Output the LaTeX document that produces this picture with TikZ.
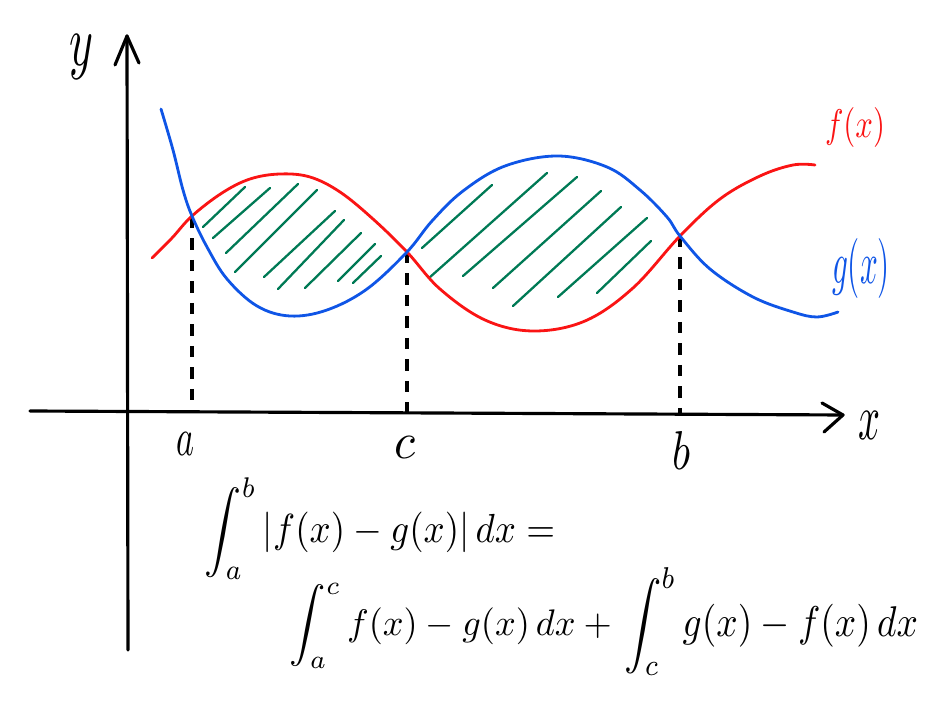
\documentclass[tikz,border=0pt]{standalone}
\usepackage{graphicx}
\newlength\pxu
\setlength\pxu{0.02cm}
\newcommand\hw[3]{\resizebox*{#1\pxu}{#2\pxu}{#3}}
\definecolor{fred}{RGB}{250,20,20}
\definecolor{gblue}{RGB}{15,85,230}
\definecolor{hgreen}{RGB}{0,122,85}
\tikzset{
  axisline/.style={line width=1.8pt,line cap=round,line join=round},
  fcurve/.style={fred,line width=1.6pt,line cap=round},
  gcurve/.style={gblue,line width=1.6pt,line cap=round},
  hatchline/.style={hgreen,line width=1.3pt,line cap=round},
  dropline/.style={line width=1.8pt,dash pattern=on 0.23cm off 0.2cm},
  lbl/.style={inner sep=0pt,outer sep=0pt}
}
\begin{document}
\begin{tikzpicture}[x=0.02cm,y=-0.02cm]
\useasboundingbox (0,0) rectangle (938,702);
% axes
\coordinate (xs) at (30,411);
\coordinate (xe) at (843,415);
\coordinate (ys) at (128,650);
\coordinate (ye) at (127,36);
\draw[axisline] (xs) -- (xe);
\draw[axisline] (822,403) -- (xe) -- (824,432);
\draw[axisline] (ys) -- (ye);
\draw[axisline] (115,65) -- (ye) -- (139,63);
\node[lbl] (ylab) at (82,57) {\hw{24}{45}{$y$}};
\node[lbl] (xlab) at (869,426) {\hw{22}{28}{$x$}};
% intersection points and feet
\coordinate (A) at (192,217);
\coordinate (C) at (407,252);
\coordinate (B) at (680,236);
\coordinate (Af) at (192,411);
\coordinate (Cf) at (407,412);
\coordinate (Bf) at (680,414);
\draw[dropline] (A) -- (Af);
\draw[dropline] (C) -- (Cf);
\draw[dropline] (B) -- (Bf);
\node[lbl] (alab) at (186,444) {\hw{18}{23}{$a$}};
\node[lbl] (clab) at (405,448) {\hw{21}{22}{$c$}};
\node[lbl] (blab) at (681,451) {\hw{18}{38}{$b$}};
% hatching
\foreach \p/\q in {{203,227}/{245,187},{213,238}/{270,188},{226,253}/{298,184},{235,272}/{317,190},{264,277}/{335,211},{278,289}/{344,220},{305,288}/{361,233},{338,281}/{375,244},{353,283}/{381,256},
  {422,248}/{492,185},{429,278}/{547,173},{463,276}/{577,177},{493,288}/{601,191},{513,306}/{621,207},{558,297}/{647,218},{597,293}/{651,241}}
  \draw[hatchline] (\p) -- (\q);
% curves
\draw[fcurve] plot[smooth,tension=0.6] coordinates {(152,258) (172,238) (192,216) (222,193) (250,179) (280,174) (310,177) (340,192) (373,219) (407,252) (440,289) (485,320) (533,331) (585,321) (633,288) (680,236) (720,199) (760,176) (793,165) (815,165)};
\draw[gcurve] plot[smooth,tension=0.6] coordinates {(161,109) (173,150) (183,190) (192,216) (207,247) (227,279) (257,306) (290,316) (327,310) (367,289) (407,252) (432,221) (463,191) (505,166) (558,156) (607,167) (640,190) (667,217) (680,236) (710,269) (753,297) (793,312) (817,317) (838,312)};
\node[lbl,text=fred] (flab) at (855,128) {\hw{60}{40}{$f(x)$}};
\node[lbl,text=gblue] (glab) at (861,269) {\hw{58}{60}{$g(x)$}};
% formula
\node[lbl] (eq1) at (380,529) {\hw{350}{102}{$\displaystyle\int_a^b |f(x)-g(x)|\,dx =$}};
\node[lbl] (eq2a) at (455,626) {\hw{330}{86}{$\displaystyle\int_a^c f(x)-g(x)\,dx+{}$}};
\node[lbl] (eq2b) at (771,622) {\hw{294}{108}{$\displaystyle\int_c^b g(x)-f(x)\,dx$}};
\end{tikzpicture}
\end{document}
